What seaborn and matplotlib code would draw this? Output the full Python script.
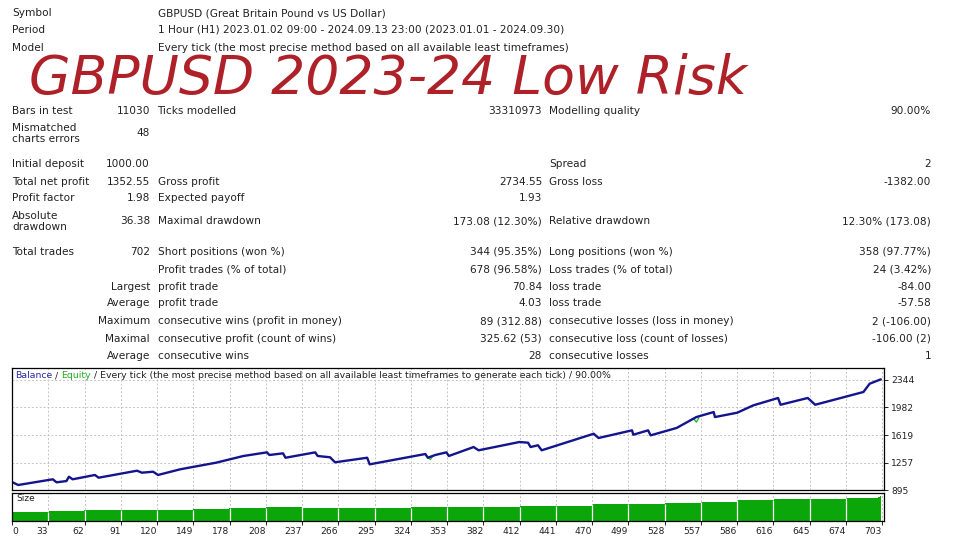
import numpy as np
import matplotlib
matplotlib.use("Agg")
import matplotlib.pyplot as plt
import seaborn as sns

# ---------------- data ----------------
balance_trade = [0, 5, 33, 36, 44, 46, 49, 67, 70, 101, 105, 114, 118, 136, 165, 187,
                 206, 208, 219, 221, 245, 247, 257, 261, 287, 289, 334, 336, 342, 351,
                 353, 373, 377, 410, 417, 419, 425, 428, 470, 474, 501, 502, 514, 516,
                 537, 553, 567, 568, 586, 599, 619, 621, 643, 649, 688, 693, 702]
balance_value = [1000, 961, 1036, 996, 1013, 1070, 1036, 1093, 1057, 1149, 1123, 1136, 1093,
                 1168, 1255, 1343, 1391, 1356, 1378, 1320, 1391, 1343, 1326, 1260, 1320,
                 1233, 1369, 1320, 1356, 1391, 1343, 1461, 1418, 1527, 1518, 1461, 1484,
                 1418, 1636, 1580, 1681, 1623, 1681, 1615, 1712, 1856, 1922, 1856, 1913,
                 2010, 2107, 2018, 2107, 2018, 2186, 2295, 2352.55]

# equity deviates visibly from balance only in two short dips
equity_dip1_trade = [336, 338, 340]
equity_dip1_value = [1322, 1298, 1340]
equity_dip2_trade = [551, 553, 555]
equity_dip2_value = [1830, 1790, 1845]

# lot size per x-axis segment (24 segments between the 25 x ticks), last trades separately
size_segment_lots = [0.10, 0.107, 0.114, 0.118, 0.118, 0.125, 0.136, 0.146, 0.143, 0.143,
                     0.143, 0.146, 0.150, 0.150, 0.160, 0.164, 0.179, 0.182, 0.196, 0.207,
                     0.221, 0.232, 0.232, 0.243]
size_last_lots = [0.255, 0.262, 0.268]

x_tick_labels = ["0", "33", "62", "91", "120", "149", "178", "208", "237", "266", "295",
                 "324", "353", "382", "412", "441", "470", "499", "528", "557", "586",
                 "616", "645", "674", "703"]
y_tick_values = [895, 1257, 1619, 1982, 2344]

header_rows = [("Symbol", "GBPUSD (Great Britain Pound vs US Dollar)"),
               ("Period", "1 Hour (H1) 2023.01.02 09:00 - 2024.09.13 23:00 (2023.01.01 - 2024.09.30)"),
               ("Model", "Every tick (the most precise method based on all available least timeframes)")]

stat_rows = [
    ("Bars in test", "11030", "Ticks modelled", "33310973", "Modelling quality", "90.00%"),
    ("Mismatched\ncharts errors", "48", "", "", "", ""),
    ("Initial deposit", "1000.00", "", "", "Spread", "2"),
    ("Total net profit", "1352.55", "Gross profit", "2734.55", "Gross loss", "-1382.00"),
    ("Profit factor", "1.98", "Expected payoff", "1.93", "", ""),
    ("Absolute\ndrawdown", "36.38", "Maximal drawdown", "173.08 (12.30%)", "Relative drawdown", "12.30% (173.08)"),
    ("Total trades", "702", "Short positions (won %)", "344 (95.35%)", "Long positions (won %)", "358 (97.77%)"),
    ("", "", "Profit trades (% of total)", "678 (96.58%)", "Loss trades (% of total)", "24 (3.42%)"),
    ("", "Largest", "profit trade", "70.84", "loss trade", "-84.00"),
    ("", "Average", "profit trade", "4.03", "loss trade", "-57.58"),
    ("", "Maximum", "consecutive wins (profit in money)", "89 (312.88)", "consecutive losses (loss in money)", "2 (-106.00)"),
    ("", "Maximal", "consecutive profit (count of wins)", "325.62 (53)", "consecutive loss (count of losses)", "-106.00 (2)"),
    ("", "Average", "consecutive wins", "28", "consecutive losses", "1"),
]

title_text = "GBPUSD 2023-24 Low Risk"

# ---------------- layout ----------------
sns.set_theme(style="white")
plt.rcParams["font.family"] = ["DejaVu Sans"]

W, H = 960, 540
fig = plt.figure(figsize=(9.6, 5.4), dpi=100)
fig.patch.set_facecolor("white")

TXT = "#222222"
FS = 7.6


def put(x, y, s, ha="left", **kw):
    kw.setdefault("fontsize", FS)
    kw.setdefault("color", TXT)
    return fig.text(x / W, 1 - y / H, s, ha=ha, va="center", **kw)


colA, colB, colC, colD, colE, colF = 12, 150, 157.5, 542, 549, 931

header_y = [13.3, 30.0, 47.7]
for (lab, val), y in zip(header_rows, header_y):
    put(colA, y, lab)
    put(colC, y, val)

row_y = [110.7, 133.5, 164.3, 181.7, 198.3, 221.5, 251.7, 269.3, 286.7, 303.3, 321.0, 338.7, 355.7]
for row, y in zip(stat_rows, row_y):
    a, b, c, d, e, f = row
    if "\n" in a:
        l1, l2 = a.split("\n")
        put(colA, y - 5.8, l1)
        put(colA, y + 5.6, l2)
    elif a:
        put(colA, y, a)
    if b:
        put(colB, y, b, ha="right")
    if c:
        put(colC, y, c)
    if d:
        put(colD, y, d, ha="right")
    if e:
        put(colE, y, e)
    if f:
        put(colF, y, f, ha="right")

fig.text(29 / W, 1 - 94 / H, title_text, ha="left", va="baseline", fontsize=38.6,
         color="#ae2128", family="DejaVu Sans", style="italic")

# ---------------- balance chart ----------------
x_right = 704.6
tick_pos = np.linspace(0, 703, len(x_tick_labels))

ax = fig.add_axes([12 / W, 1 - 490 / H, 872 / W, 122 / H])
for tx, vy in [(equity_dip1_trade, equity_dip1_value), (equity_dip2_trade, equity_dip2_value)]:
    sns.lineplot(x=tx, y=vy, ax=ax, color="#22bb22", linewidth=1.0, estimator=None, sort=False)
sns.lineplot(x=balance_trade, y=balance_value, ax=ax, color="#14148e", linewidth=1.7,
             estimator=None, sort=False)
ax.set_xlim(0, x_right)
ax.set_ylim(895, 2502)
ax.set_xticks(tick_pos)
ax.set_yticks(y_tick_values)
ax.set_yticklabels([str(v) for v in y_tick_values])
ax.yaxis.tick_right()
ax.tick_params(axis="y", direction="out", length=3, width=0.7, colors="#222222",
               labelsize=6.6, pad=2, right=True, left=False)
ax.tick_params(axis="x", length=0, labelbottom=False)
ax.set_xlabel("")
ax.set_ylabel("")
ax.grid(True, linestyle=(0, (2, 2)), color="#c4c4c4", linewidth=0.7)
ax.set_axisbelow(True)
for sp in ax.spines.values():
    sp.set_color("black")
    sp.set_linewidth(0.9)

# multi-coloured header inside chart
fig.canvas.draw()
renderer = fig.canvas.get_renderer()
x0 = 15
pieces = [("Balance", "#2a2aa0"), (" / ", TXT), ("Equity", "#22aa22"),
          (" / Every tick (the most precise method based on all available least timeframes to generate each tick) / 90.00%", TXT)]
for s, col in pieces:
    t = fig.text(x0 / W, 1 - 376 / H, s, ha="left", va="center", fontsize=6.75, color=col)
    bb = t.get_window_extent(renderer)
    x0 += bb.width

# ---------------- size panel ----------------
ax2 = fig.add_axes([12 / W, 1 - 521 / H, 872 / W, 28 / H])
trades = np.arange(0, 703)
seg_idx = np.minimum((trades / (703 / len(size_segment_lots))).astype(int), len(size_segment_lots) - 1)
sizes = np.array(size_segment_lots)[seg_idx]
sizes[-len(size_last_lots):] = size_last_lots
sns.histplot(x=trades, weights=sizes, discrete=True, shrink=1.0, color="#0aa60a",
             alpha=1.0, linewidth=0, ax=ax2)
ax2.set_xlim(0, x_right)
ax2.set_ylim(0, 0.30)
ax2.set_yticks([])
ax2.set_ylabel("")
ax2.set_xlabel("")
ax2.set_xticks(tick_pos)
ax2.set_xticklabels(x_tick_labels)
ax2.tick_params(axis="x", direction="out", length=3, width=0.7, colors="#222222",
                labelsize=6.6, pad=1.5, bottom=True)
for i, lab in enumerate(ax2.get_xticklabels()):
    lab.set_ha("left" if i == 0 else "right")
ax2.grid(True, axis="x", linestyle=(0, (2, 2)), color="#c4c4c4", linewidth=0.7)
ax2.set_axisbelow(True)
inner = tick_pos[1:-1]
ax2.vlines(inner, 0, sizes[np.clip(np.round(inner).astype(int), 0, 702)], color="white",
           linewidth=0.9, zorder=4)
for sp in ax2.spines.values():
    sp.set_color("black")
    sp.set_linewidth(0.9)
ax2.text(4 / 872, 0.8, "Size", transform=ax2.transAxes, fontsize=6.5, color=TXT,
         ha="left", va="center")

fig.savefig("out.png", dpi=100, facecolor="white")
